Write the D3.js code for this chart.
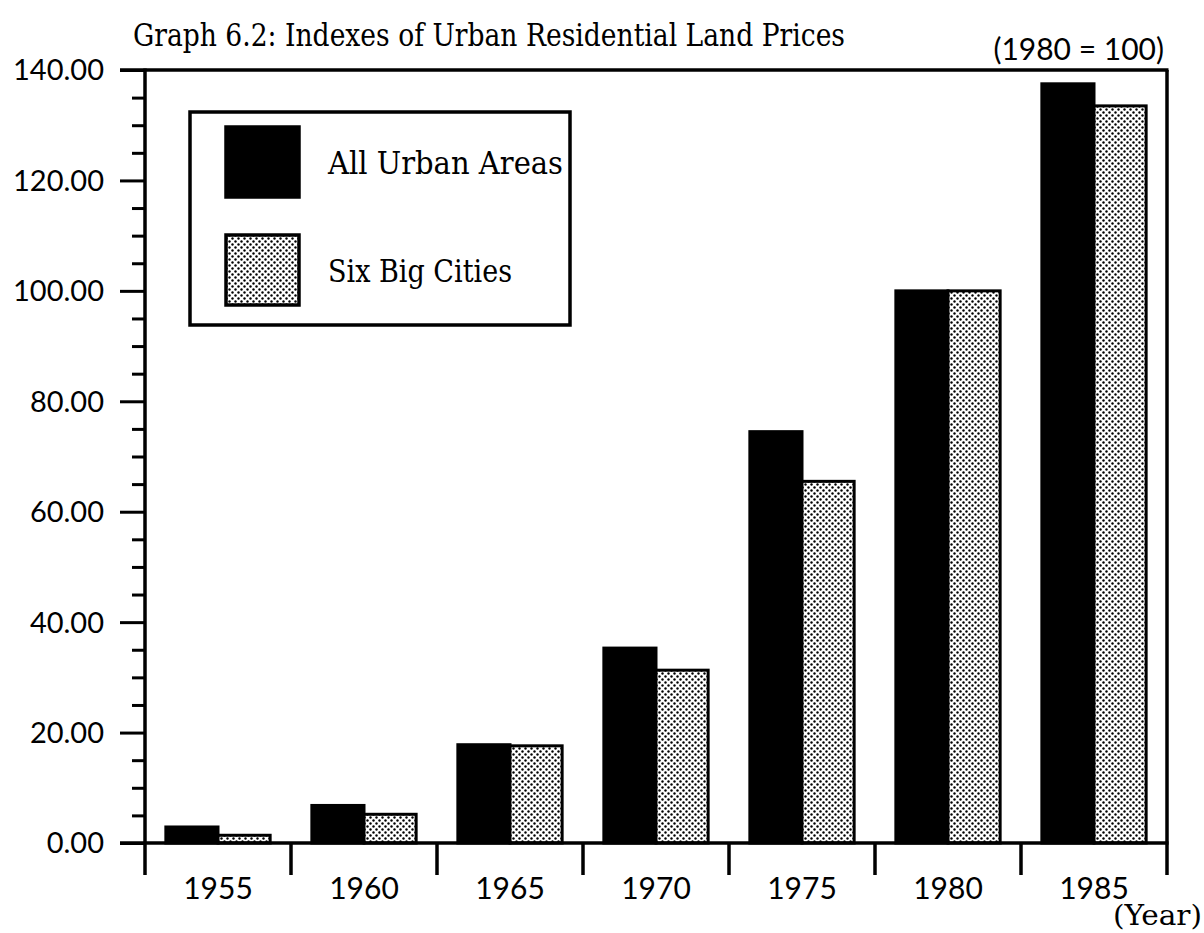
<!DOCTYPE html>
<html>
<head>
<meta charset="utf-8">
<script src="https://cdn.jsdelivr.net/npm/d3@7"></script>
<style>
  html, body { margin: 0; padding: 0; background: #fff; }
  svg { display: block; }
</style>
</head>
<body>
<svg id="chart" width="1204" height="933"></svg>
<script>
// ---- data ----
const years = ["1955", "1960", "1965", "1970", "1975", "1980", "1985"];
const seriesNames = ["All Urban Areas", "Six Big Cities"];
const allUrbanAreas = [2.9, 6.8, 17.8, 35.3, 74.5, 100, 137.5];
const sixBigCities = [1.4, 5.2, 17.6, 31.3, 65.5, 100, 133.5];
const yTickValues = [0, 20, 40, 60, 80, 100, 120, 140];
const titleText = "Graph 6.2: Indexes of Urban Residential Land Prices";
const noteText = "(1980 = 100)";
const xUnitText = "(Year)";

// ---- layout ----
const plot = { left: 145, right: 1167, top: 70, bottom: 843 };
const numFont = "Lato, 'Noto Sans', sans-serif";
const slabFont = "'DejaVu Serif', serif";

const svg = d3.select("#chart");

// dotted pattern
const defs = svg.append("defs");
const pat = defs.append("pattern")
  .attr("id", "dots").attr("patternUnits", "userSpaceOnUse")
  .attr("width", 6).attr("height", 6);
pat.append("rect").attr("width", 6).attr("height", 6).attr("fill", "#fff");
pat.append("circle").attr("cx", 1.5).attr("cy", 1.5).attr("r", 1.2).attr("fill", "#000");
pat.append("circle").attr("cx", 4.5).attr("cy", 4.5).attr("r", 1.2).attr("fill", "#000");

const x0 = d3.scaleBand().domain(years).range([plot.left, plot.right]).paddingInner(0).paddingOuter(0);
const x1 = d3.scaleBand().domain(seriesNames).range([0, x0.bandwidth()]).paddingInner(0).paddingOuter(0.4);
const y = d3.scaleLinear().domain([0, 140]).range([plot.bottom, plot.top]);

const fills = { "All Urban Areas": "#000", "Six Big Cities": "url(#dots)" };

const rows = years.map((yr, i) => ({ year: yr, values: [
  { key: seriesNames[0], value: allUrbanAreas[i] },
  { key: seriesNames[1], value: sixBigCities[i] }
]}));

// ---- bars ----
const groups = svg.append("g").selectAll("g").data(rows).join("g")
  .attr("transform", d => `translate(${x0(d.year)},0)`);
groups.selectAll("rect").data(d => d.values).join("rect")
  .attr("x", d => x1(d.key))
  .attr("y", d => y(d.value))
  .attr("width", x1.bandwidth())
  .attr("height", d => y(0) - y(d.value))
  .attr("fill", d => fills[d.key])
  .attr("stroke", "#000")
  .attr("stroke-width", 3);

// ---- frame: top & right ----
svg.append("line").attr("x1", 120).attr("x2", plot.right + 1.5)
  .attr("y1", plot.top).attr("y2", plot.top)
  .attr("stroke", "#000").attr("stroke-width", 3.5);
svg.append("line").attr("x1", plot.right).attr("x2", plot.right)
  .attr("y1", plot.top).attr("y2", plot.bottom)
  .attr("stroke", "#000").attr("stroke-width", 3.5);

// ---- y axis ----
const yAxisG = svg.append("g").attr("transform", `translate(${plot.left},0)`);
yAxisG.call(d3.axisLeft(y).tickValues(d3.range(0, 141, 5)).tickSize(13).tickFormat(""));
yAxisG.call(g => g.select(".domain").remove());
yAxisG.selectAll(".tick line").attr("stroke", "#000").attr("stroke-width", 3)
  .attr("x2", v => (v % 20 === 0 ? -25 : -13));
yAxisG.append("line").attr("x1", 0).attr("x2", 0).attr("y1", plot.top - 1.5).attr("y2", plot.bottom)
  .attr("stroke", "#000").attr("stroke-width", 3.5);
yAxisG.selectAll(".ylab").data(yTickValues).join("text")
  .attr("class", "ylab")
  .attr("x", -41).attr("y", v => y(v))
  .attr("dy", "0.36em")
  .attr("text-anchor", "end")
  .attr("font-family", numFont).attr("font-size", 29).attr("fill", "#000")
  .text(v => d3.format(".2f")(v));

// ---- x axis ----
const xAxisG = svg.append("g").attr("transform", `translate(0,${plot.bottom})`);
xAxisG.append("line").attr("x1", 120).attr("x2", plot.right + 1.5).attr("y1", 0).attr("y2", 0)
  .attr("stroke", "#000").attr("stroke-width", 3.5);
const boundaries = years.map(yr => x0(yr)).concat([x0(years[years.length - 1]) + x0.bandwidth()]);
xAxisG.selectAll(".xt").data(boundaries).join("line")
  .attr("class", "xt")
  .attr("x1", d => d).attr("x2", d => d).attr("y1", 0).attr("y2", 32)
  .attr("stroke", "#000").attr("stroke-width", 3.5);
xAxisG.selectAll(".xlab").data(years).join("text")
  .attr("class", "xlab")
  .attr("x", d => x0(d) + x0.bandwidth() / 2)
  .attr("y", 56)
  .attr("text-anchor", "middle")
  .attr("font-family", numFont).attr("font-size", 30).attr("fill", "#000")
  .text(d => d);

// ---- texts ----
svg.append("text").attr("x", 133).attr("y", 46)
  .attr("font-family", slabFont).attr("font-stretch", "condensed").attr("font-size", 31).attr("fill", "#000")
  .attr("textLength", 712).attr("lengthAdjust", "spacingAndGlyphs")
  .text(titleText);
svg.append("text").attr("x", 1164).attr("y", 60)
  .attr("text-anchor", "end")
  .attr("font-family", numFont).attr("font-size", 30).attr("fill", "#000")
  .text(noteText);
svg.append("text").attr("x", 1202).attr("y", 925)
  .attr("text-anchor", "end")
  .attr("font-family", slabFont).attr("font-stretch", "condensed").attr("font-size", 27).attr("fill", "#000")
  .attr("textLength", 89).attr("lengthAdjust", "spacingAndGlyphs")
  .text(xUnitText);

// ---- legend ----
const legend = svg.append("g");
legend.append("rect").attr("x", 190).attr("y", 112).attr("width", 380).attr("height", 213)
  .attr("fill", "#fff").attr("stroke", "#000").attr("stroke-width", 3.5);
const legendY = [127, 235];
seriesNames.forEach((name, i) => {
  legend.append("rect").attr("x", 226).attr("y", legendY[i]).attr("width", 73).attr("height", 70)
    .attr("fill", fills[name]).attr("stroke", "#000").attr("stroke-width", 3.5);
  legend.append("text").attr("x", 328).attr("y", legendY[i] + 47)
    .attr("font-family", slabFont).attr("font-stretch", "condensed").attr("font-size", 31).attr("fill", "#000")
    .attr("textLength", i === 0 ? 235 : 184).attr("lengthAdjust", "spacingAndGlyphs")
    .text(name);
});
</script>
</body>
</html>
